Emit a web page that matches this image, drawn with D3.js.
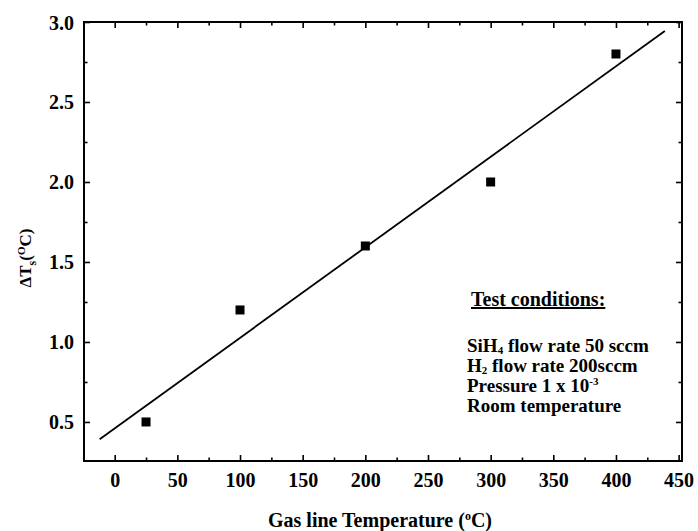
<!DOCTYPE html>
<html>
<head>
<meta charset="utf-8">
<script src="https://cdn.jsdelivr.net/npm/d3@7/dist/d3.min.js"></script>
<style>
  html, body { margin: 0; padding: 0; background: #fff; }
  svg text { font-family: "Liberation Serif", "DejaVu Serif", serif; fill: #000; }
</style>
</head>
<body>
<svg id="chart" width="698" height="531"></svg>
<script>
// Measured temperature rise vs. gas line temperature
const gasTemp = [25, 100, 200, 300, 400];
const deltaTs = [0.5, 1.2, 1.6, 2.0, 2.8];
const fitRange = [-12, 439];

const xMajor = [0, 50, 100, 150, 200, 250, 300, 350, 400, 450];
const xMinor = [25, 75, 125, 175, 225, 275, 325, 375, 425];
const yMajor = [0.5, 1.0, 1.5, 2.0, 2.5, 3.0];
const yMinor = [0.75, 1.25, 1.75, 2.25, 2.75];

// Each condition line as [text, shift] segments: shift 0 normal, +1 subscript, -1 superscript
const conditions = [
  [["SiH", 0], ["4", 1], [" flow rate 50 sccm", 0]],
  [["H", 0], ["2", 1], [" flow rate 200sccm", 0]],
  [["Pressure 1 x 10", 0], ["-3", -1]],
  [["Room temperature", 0]]
];

const margin = { left: 84, top: 22, right: 16, bottom: 70 };
const W = 698, H = 531;
const svg = d3.select("#chart");

const x = d3.scaleLinear().domain([-24.5, 452.7]).range([margin.left, W - margin.right]);
const y = d3.scaleLinear().domain([0.256, 3.0]).range([H - margin.bottom, margin.top]);

const x0 = x.range()[0], x1 = x.range()[1];
const y0 = y.range()[0], y1 = y.range()[1];

// Frame ticks (all pointing inward)
function tickAxis(axisFn, scale, vals, size, tx, ty, labels) {
  const g = svg.append("g").attr("transform", `translate(${tx},${ty})`)
    .call(axisFn(scale).tickValues(vals).tickSize(size).tickSizeOuter(0)
      .tickFormat(labels ? labels : ""));
  g.select(".domain").remove();
  g.selectAll(".tick line").attr("stroke", "#000").attr("stroke-width", 1.6);
  return g;
}
const fmtY = d3.format(".1f");
// bottom
const gxb = tickAxis(d3.axisTop, x, xMajor, 6, 0, y0, d => d);
tickAxis(d3.axisTop, x, xMinor, 3.5, 0, y0, null);
// top
tickAxis(d3.axisBottom, x, xMajor, 6, 0, y1, null);
tickAxis(d3.axisBottom, x, xMinor, 3.5, 0, y1, null);
// left
const gyl = tickAxis(d3.axisRight, y, yMajor, 6, x0, 0, fmtY);
tickAxis(d3.axisRight, y, yMinor, 3.5, x0, 0, null);
// right
tickAxis(d3.axisLeft, y, yMajor, 6, x1, 0, null);
tickAxis(d3.axisLeft, y, yMinor, 3.5, x1, 0, null);

gxb.selectAll(".tick text")
  .attr("y", 26).attr("dy", 0)
  .attr("font-size", 20).attr("font-weight", "bold")
  .attr("font-family", "Liberation Serif");
gyl.selectAll(".tick text")
  .attr("x", -10).attr("dy", "0.35em")
  .attr("text-anchor", "end")
  .attr("font-size", 20).attr("font-weight", "bold")
  .attr("font-family", "Liberation Serif");

// Frame
svg.append("rect")
  .attr("x", x0).attr("y", y1)
  .attr("width", x1 - x0).attr("height", y0 - y1)
  .attr("fill", "none").attr("stroke", "#000").attr("stroke-width", 2);

// Least-squares fit line through the measurements
const mx = d3.mean(gasTemp), my = d3.mean(deltaTs);
const sxy = d3.sum(gasTemp, (v, i) => (v - mx) * (deltaTs[i] - my));
const sxx = d3.sum(gasTemp, v => (v - mx) * (v - mx));
const slope = sxy / sxx, icpt = my - slope * mx;
const line = d3.line().x(d => x(d)).y(d => y(icpt + slope * d));
svg.append("path")
  .attr("d", line(fitRange))
  .attr("fill", "none").attr("stroke", "#000").attr("stroke-width", 1.8);

// Data markers
const ms = 9;
svg.append("g").selectAll("rect")
  .data(gasTemp.map((t, i) => [t, deltaTs[i]]))
  .join("rect")
  .attr("x", d => x(d[0]) - ms / 2)
  .attr("y", d => y(d[1]) - ms / 2)
  .attr("width", ms).attr("height", ms)
  .attr("fill", "#000");

// Axis titles
svg.append("text")
  .attr("x", 380).attr("y", 527)
  .attr("text-anchor", "middle").attr("font-size", 20).attr("font-weight", "bold")
  .html('Gas line Temperature (<tspan dy="-7" font-size="12">o</tspan><tspan dy="7">C)</tspan>');

svg.append("text")
  .attr("transform", "translate(31,258) rotate(-90)")
  .attr("text-anchor", "middle").attr("font-size", 17).attr("font-weight", "bold")
  .html('ΔT<tspan dy="5" font-size="12">s</tspan><tspan dy="-5">(</tspan><tspan dy="-6" font-size="11">O</tspan><tspan dy="6">C)</tspan>');

// Test conditions note
const fs = 19;
const note = svg.append("g");
note.append("text")
  .attr("x", 471).attr("y", 306).attr("font-size", 20).attr("font-weight", "bold")
  .attr("text-decoration", "underline")
  .text("Test conditions:");
note.selectAll("text.cond")
  .data(conditions)
  .join("text")
  .attr("class", "cond")
  .attr("x", 467)
  .attr("y", (d, i) => 352 + i * 20)
  .attr("font-size", fs).attr("font-weight", "bold")
  .each(function (segs) {
    const t = d3.select(this);
    let cur = 0;
    segs.forEach(([s, shift]) => {
      const off = shift === 1 ? 2 : shift === -1 ? -7 : 0;
      t.append("tspan")
        .attr("dy", off - cur)
        .attr("font-size", shift === 0 ? fs : 11)
        .text(s);
      cur = off;
    });
  });
</script>
</body>
</html>
